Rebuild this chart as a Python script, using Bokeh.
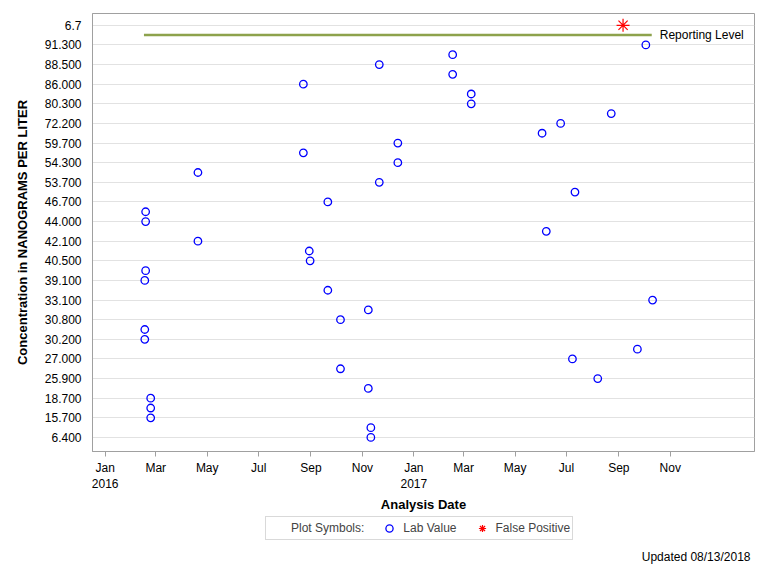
from datetime import datetime
import pandas as pd
from bokeh.plotting import figure
from bokeh.layouts import column
from bokeh.models import (Range1d, FixedTicker, CustomJSTickFormatter, Legend, LegendItem,
                          Label, ColumnDataSource)
from bokeh.embed import file_html
from bokeh.resources import INLINE

# ---- data ----
# y axis: discrete concentration levels (only every other level is labelled)
y_labels = ["6.400", "15.700", "18.700", "25.900", "27.000", "30.200", "30.800", "33.100",
            "39.100", "40.500", "42.100", "44.000", "46.700", "53.700", "54.300", "59.700",
            "72.200", "80.300", "86.000", "88.500", "91.300", "6.7"]

# lab values: analysis date and level index (labelled levels are even indices)
lab_dates = ["2016-11-11", "2016-11-11", "2016-02-24", "2016-02-24", "2016-02-24", "2016-11-08",
             "2017-08-07", "2016-10-06", "2017-07-08", "2017-09-23", "2016-02-17", "2016-02-17",
             "2016-10-06", "2016-11-08", "2017-10-11", "2016-09-21", "2016-02-17", "2016-02-18",
             "2016-08-31", "2016-08-30", "2016-04-20", "2017-06-07", "2016-02-18", "2016-02-18",
             "2016-09-21", "2017-07-11", "2016-11-21", "2016-04-20", "2016-12-13", "2016-08-23",
             "2016-12-13", "2017-06-02", "2017-06-24", "2017-08-23", "2017-03-10", "2017-03-10",
             "2016-08-23", "2017-02-16", "2016-11-21", "2017-02-16", "2017-10-03"]
lab_levels = list(range(41))

fp_dates = ["2017-09-06"]
fp_levels = [42]

reporting_dates = ["2016-02-16", "2017-10-10"]
reporting_level = [41, 41]

tick_months = pd.date_range("2016-01-01", "2017-11-01", freq="2MS")

FONT = "Liberation Sans"
LAB_STYLE = dict(marker="circle", size=7.5, fill_color=None, line_color="#0000ff", line_width=1.3)
FP_STYLE = dict(marker="asterisk", size=13, line_color="#ff0000", line_width=1.2)

# ---- main figure ----
p = figure(width=768, height=515, x_axis_type="datetime", output_backend="svg",
           toolbar_location=None, min_border_left=92, min_border_right=14,
           min_border_top=13, min_border_bottom=64,
           x_range=Range1d(datetime(2015, 12, 17), datetime(2018, 2, 8, 20)),
           y_range=Range1d(-1.43, 43.2))
p.background_fill_color = "white"
p.border_fill_color = "white"
p.outline_line_color = "#a0a0a0"

p.xgrid.grid_line_color = None
p.ygrid.grid_line_color = "#e2e2e2"

# y axis
p.yaxis.ticker = FixedTicker(ticks=[2 * i for i in range(len(y_labels))])
p.yaxis.major_label_overrides = {2 * i: lab for i, lab in enumerate(y_labels)}
p.yaxis.major_tick_out = 0
p.yaxis.major_label_standoff = 11
p.yaxis.axis_label = "Concentration in NANOGRAMS PER LITER"
p.yaxis.axis_label_standoff = 12

# x axis
p.xaxis.ticker = FixedTicker(ticks=[t.value / 1e6 for t in tick_months])
p.xaxis.formatter = CustomJSTickFormatter(code="""
const names = ["Jan","Feb","Mar","Apr","May","Jun","Jul","Aug","Sep","Oct","Nov","Dec"];
const d = new Date(tick);
const m = d.getUTCMonth();
return m == 0 ? names[m] + "\\n" + d.getUTCFullYear() : names[m];
""")
p.xaxis.major_tick_in = 0
p.xaxis.major_tick_out = 5
p.xaxis.major_label_standoff = 4
p.xaxis.axis_label = "Analysis Date"
p.xaxis.axis_label_standoff = 3

for ax in (p.xaxis, p.yaxis):
    ax.axis_line_color = "#a0a0a0"
    ax.minor_tick_line_color = None
    ax.major_label_text_font = FONT
    ax.major_label_text_font_size = "12px"
    ax.major_label_text_color = "black"
    ax.axis_label_text_font = FONT
    ax.axis_label_text_font_size = "13px"
    ax.axis_label_text_font_style = "bold"
    ax.axis_label_text_color = "black"
p.xaxis.major_tick_line_color = "#a0a0a0"
p.yaxis.major_tick_line_color = None

# reporting level line
p.line(x=pd.to_datetime(reporting_dates), y=reporting_level, line_color="#8da24c", line_width=2.5)
p.add_layout(Label(x=pd.to_datetime(reporting_dates[-1]), y=reporting_level[-1], text="Reporting Level",
                   x_offset=8, text_baseline="middle", text_align="left", text_font=FONT,
                   text_font_size="12px", text_color="black"))

lab_src = ColumnDataSource(dict(x=pd.to_datetime(lab_dates), y=lab_levels))
p.scatter("x", "y", source=lab_src, **LAB_STYLE)
fp_src = ColumnDataSource(dict(x=pd.to_datetime(fp_dates), y=fp_levels))
p.scatter("x", "y", source=fp_src, **FP_STYLE)

# ---- footer figure: legend + update note ----
# (its frame is aligned with the main frame by the column layout)
f = figure(width=768, height=61, output_backend="svg", toolbar_location=None,
           min_border=0, x_axis_location=None, y_axis_location=None,
           x_range=Range1d(0, 1), y_range=Range1d(0, 1))
f.outline_line_color = None
f.grid.grid_line_color = None
f.background_fill_color = "white"
f.border_fill_color = "white"

# legend-only renderers, their single point lies outside the visible range
r_head = f.scatter(x=[-5], y=[-5], marker="circle", size=1, fill_alpha=0, line_alpha=0)
r_lab = f.scatter(x=[-5], y=[-5], **LAB_STYLE)
r_fp = f.scatter(x=[-5], y=[-5], **FP_STYLE)

legend = Legend(items=[LegendItem(label="Plot Symbols:", renderers=[r_head]),
                       LegendItem(label="Lab Value", renderers=[r_lab]),
                       LegendItem(label="False Positive", renderers=[r_fp])],
                orientation="horizontal", location=(173, 36),
                border_line_color="#b4b4b4", background_fill_color="white",
                label_text_font=FONT, label_text_font_size="12px",
                glyph_width=18, glyph_height=18, label_standoff=5, spacing=16,
                padding=2, margin=0, label_height=14)
f.add_layout(legend, "center")

f.add_layout(Label(x=658, y=20, x_units="screen", y_units="screen", text="Updated 08/13/2018",
                   text_align="right", text_baseline="middle", text_font=FONT,
                   text_font_size="12px", text_color="black"))

open("out.html", "w").write(file_html(column(p, f, spacing=0), INLINE))
